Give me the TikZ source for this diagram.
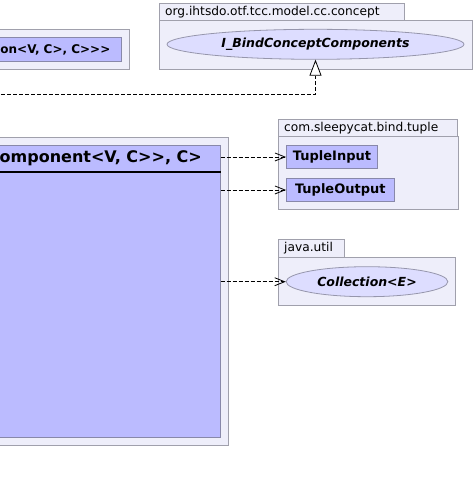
\documentclass[tikz,border=0pt]{standalone}
\usepackage{fontspec}
\setmainfont{DejaVu Sans}[Ligatures=TeXOff]
\usetikzlibrary{arrows.meta,shapes.geometric}
\definecolor{pkgfill}{RGB}{238,238,250}
\definecolor{pkgline}{RGB}{160,160,172}
\definecolor{clsfill}{RGB}{187,187,255}
\definecolor{clsline}{RGB}{136,136,170}
\definecolor{ifcfill}{RGB}{221,221,255}
\definecolor{ifcline}{RGB}{150,150,172}
\tikzset{
  pkgbox/.style={draw=pkgline, fill=pkgfill, line width=0.9pt},
  clsbox/.style={draw=clsline, fill=clsfill, line width=0.9pt},
  pkglabel/.style={font=\fontsize{12.2}{14}\selectfont, inner sep=0pt, anchor=west},
  clsname/.style={font=\fontsize{13}{15}\bfseries\selectfont, inner sep=0pt},
  ifcname/.style={ellipse, draw=ifcline, fill=ifcfill, line width=0.8pt, inner sep=0pt,
    font=\fontsize{12.5}{14}\bfseries\itshape\selectfont},
  dep/.style={dashed, dash pattern=on 4pt off 2pt, line width=0.8pt,
    -{Straight Barb[length=10pt,width=8pt,line width=0.8pt]}},
  realize/.style={dashed, dash pattern=on 4pt off 2pt, line width=0.8pt,
    -{Triangle[open,length=16pt,width=12pt,line width=0.8pt,fill=white]}},
}
\begin{document}
\begin{tikzpicture}[x=1pt,y=-1pt]
\useasboundingbox (0,0) rectangle (475,483);
\clip (0,0) rectangle (475,483);

% package org.ihtsdo.otf.tcc.model.cc.concept
\draw[pkgbox] (159,3) rectangle (404,20.5);
\draw[pkgbox] (159,20.5) rectangle (472,69);
\node[pkglabel] (pconcept) at (165,12) {org.ihtsdo.otf.tcc.model.cc.concept};
\node[ifcname, minimum width=297pt, minimum height=30pt] (iface) at (315.5,44.3) {I\_BindConceptComponents};

% neighbouring package, top left
\draw[pkgbox] (-10,29) rectangle (129.5,69);
\draw[clsbox] (-10,37) rectangle (121.7,61.7);
\node[font=\fontsize{12}{14}\bfseries\selectfont, inner sep=0pt, anchor=east] (upper) at (110.5,49.5) {on<V, C>, C>>>};

% main class
\draw[pkgbox] (-10,137) rectangle (228.5,445.3);
\node[clsbox, minimum width=230.7pt, minimum height=292.3pt, inner sep=0pt, anchor=north east] (main) at (220.7,145) {};
\draw[line width=1.6pt] (main.west |- 0,171.7) -- (main.east |- 0,171.7);
\node[font=\fontsize{16}{18}\bfseries\selectfont, inner sep=0pt, anchor=east] (title) at (202,158) {omponent<V, C>>, C>};

% package com.sleepycat.bind.tuple
\draw[pkgbox] (278.5,119.5) rectangle (457,136);
\draw[pkgbox] (278.5,136) rectangle (458.5,209);
\node[pkglabel] (ptuple) at (284,128) {com.sleepycat.bind.tuple};
\node[clsbox, clsname, minimum width=91pt, minimum height=23pt, anchor=north west] (tin) at (286,145) {TupleInput};
\node[clsbox, clsname, minimum width=107.7pt, minimum height=23pt, anchor=north west] (tout) at (286,178) {TupleOutput};

% package java.util
\draw[pkgbox] (278.5,239) rectangle (344,257);
\draw[pkgbox] (278.5,257) rectangle (455.7,305);
\node[pkglabel] (putil) at (284,248) {java.util};
\node[ifcname, minimum width=161.7pt, minimum height=30pt] (coll) at (367,281.7) {Collection<E>};

% connectors
\coordinate (impl) at (-5,94);
\draw[realize] (impl) -| (iface.south);
\draw[dep] (tin.west -| main.east) -- (tin.west);
\draw[dep] (tout.west -| main.east) -- (tout.west);
\draw[dep] (coll.west -| main.east) -- (coll.west);
\end{tikzpicture}
\end{document}
